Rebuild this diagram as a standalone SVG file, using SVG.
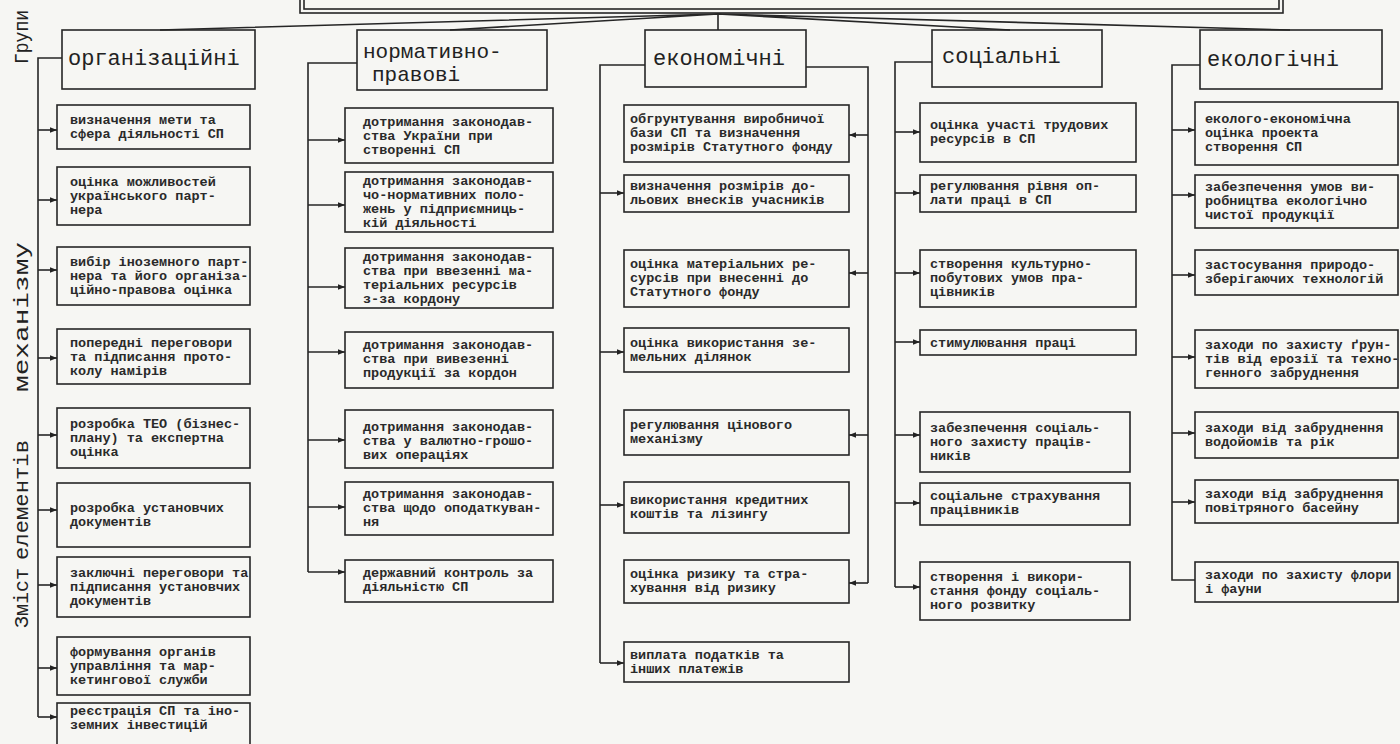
<svg xmlns="http://www.w3.org/2000/svg" width="1400" height="744" viewBox="0 0 1400 744">
<style>
.bg{fill:#f6f6f3}
.box{fill:none;stroke:#262626;stroke-width:1.6}
.c{fill:none;stroke:#262626;stroke-width:1.6}
.t{font-family:"Liberation Mono","DejaVu Sans Mono",monospace;font-size:13.5px;font-weight:bold;fill:#2a2a2a}
.h{font-family:"Liberation Mono","DejaVu Sans Mono",monospace;font-size:22px;fill:#222}
.v{font-family:"Liberation Mono","DejaVu Sans Mono",monospace;font-size:21px;fill:#222}
</style>
<defs>
<marker id="a" viewBox="0 0 10 10" refX="10" refY="5" markerUnits="userSpaceOnUse" markerWidth="8" markerHeight="7" orient="auto"><path d="M0,1 L10,5 L0,9 z" fill="#222"/></marker>
</defs>
<rect class="bg" x="0" y="0" width="1400" height="744"/>

<g id="top">
<rect class="box" x="300" y="-8" width="983" height="21"/>
<rect class="box" x="304" y="-8" width="975" height="17"/>
</g>

<g id="labels">
<g transform="translate(28,0) rotate(-90)">
<text class="v" x="-64" y="0" textLength="54" lengthAdjust="spacingAndGlyphs">Групи</text>
<text class="v" x="-628" y="0" textLength="60" lengthAdjust="spacingAndGlyphs">Зміст</text>
<text class="v" x="-560" y="0" textLength="120" lengthAdjust="spacingAndGlyphs">елементів</text>
<text class="v" x="-392" y="0" textLength="150" lengthAdjust="spacingAndGlyphs">механізму</text>
</g>
</g>

<g id="connectors">
<path class="c" d="M718,14 L160,30 M718,14 L450,30 M718,14 L718,30 M718,14 L1010,30 M718,14 L1290,30"/>
<!-- col1 -->
<path class="c" d="M62,58 H38 V717"/>
<path class="c" d="M38,130 H57" marker-end="url(#a)"/>
<path class="c" d="M38,200 H57" marker-end="url(#a)"/>
<path class="c" d="M38,270 H57" marker-end="url(#a)"/>
<path class="c" d="M38,358 H57" marker-end="url(#a)"/>
<path class="c" d="M38,435 H57" marker-end="url(#a)"/>
<path class="c" d="M38,510 H57" marker-end="url(#a)"/>
<path class="c" d="M38,585 H57" marker-end="url(#a)"/>
<path class="c" d="M38,668 H57" marker-end="url(#a)"/>
<path class="c" d="M38,717 H57" marker-end="url(#a)"/>
<!-- col2 -->
<path class="c" d="M357,63 H308 V572"/>
<path class="c" d="M308,140 H345" marker-end="url(#a)"/>
<path class="c" d="M308,205 H345" marker-end="url(#a)"/>
<path class="c" d="M308,287 H345" marker-end="url(#a)"/>
<path class="c" d="M308,352 H345" marker-end="url(#a)"/>
<path class="c" d="M308,440 H345" marker-end="url(#a)"/>
<path class="c" d="M308,507 H345" marker-end="url(#a)"/>
<path class="c" d="M308,572 H345" marker-end="url(#a)"/>
<!-- col3 -->
<path class="c" d="M645,65 H600 V663"/>
<path class="c" d="M806,67 H868 V583"/>
<path class="c" d="M868,135 H849" marker-end="url(#a)"/>
<path class="c" d="M600,193 H624" marker-end="url(#a)"/>
<path class="c" d="M868,273 H849" marker-end="url(#a)"/>
<path class="c" d="M600,352 H624" marker-end="url(#a)"/>
<path class="c" d="M868,435 H849" marker-end="url(#a)"/>
<path class="c" d="M600,505 H624" marker-end="url(#a)"/>
<path class="c" d="M868,583 H849" marker-end="url(#a)"/>
<path class="c" d="M600,663 H624" marker-end="url(#a)"/>
<!-- col4 -->
<path class="c" d="M932,62 H895 V587"/>
<path class="c" d="M895,132 H920" marker-end="url(#a)"/>
<path class="c" d="M895,193 H920" marker-end="url(#a)"/>
<path class="c" d="M895,273 H920" marker-end="url(#a)"/>
<path class="c" d="M895,342 H920" marker-end="url(#a)"/>
<path class="c" d="M895,435 H920" marker-end="url(#a)"/>
<path class="c" d="M895,503 H920" marker-end="url(#a)"/>
<path class="c" d="M895,587 H920" marker-end="url(#a)"/>
<!-- col5 -->
<path class="c" d="M1200,65 H1172 V580 H1195"/>
<path class="c" d="M1172,130 H1195" marker-end="url(#a)"/>
<path class="c" d="M1172,195 H1195" marker-end="url(#a)"/>
<path class="c" d="M1172,275 H1195" marker-end="url(#a)"/>
<path class="c" d="M1172,357 H1195" marker-end="url(#a)"/>
<path class="c" d="M1172,433 H1195" marker-end="url(#a)"/>
<path class="c" d="M1172,502 H1195" marker-end="url(#a)"/>
</g>

<!-- headers -->
<g id="h-org"><rect class="box" x="62" y="30" width="193" height="59"/><text class="h" x="68" y="65">організаційні</text></g>
<g id="h-norm"><rect class="box" x="357" y="30" width="190" height="60"/><text class="h" x="363" y="58" style="font-size:21px">нормативно-</text><text class="h" x="372" y="81" style="font-size:21px">правові</text></g>
<g id="h-econ"><rect class="box" x="645" y="30" width="161" height="57"/><text class="h" x="653" y="65">економічні</text></g>
<g id="h-soc"><rect class="box" x="932" y="30" width="170" height="57"/><text class="h" x="942" y="63">соціальні</text></g>
<g id="h-eco"><rect class="box" x="1200" y="30" width="182" height="59"/><text class="h" x="1207" y="66">екологічні</text></g>

<!-- column 1 -->
<g id="o1"><rect class="box" x="57" y="105" width="193" height="44"/><text class="t" x="70" y="124">визначення  мети та</text><text class="t" x="70" y="138">сфера діяльності СП</text></g>
<g id="o2"><rect class="box" x="57" y="167" width="193" height="58"/><text class="t" x="70" y="186">оцінка можливостей</text><text class="t" x="70" y="200">українського парт-</text><text class="t" x="70" y="214">нера</text></g>
<g id="o3"><rect class="box" x="57" y="247" width="193" height="58"/><text class="t" x="70" y="266">вибір іноземного парт-</text><text class="t" x="70" y="280">нера та його організа-</text><text class="t" x="70" y="294">ційно-правова оцінка</text></g>
<g id="o4"><rect class="box" x="57" y="329" width="193" height="55"/><text class="t" x="70" y="347">попередні переговори</text><text class="t" x="70" y="361">та підписання прото-</text><text class="t" x="70" y="375">колу намірів</text></g>
<g id="o5"><rect class="box" x="57" y="408" width="193" height="60"/><text class="t" x="70" y="428">розробка ТЕО (бізнес-</text><text class="t" x="70" y="442">плану)  та експертна</text><text class="t" x="70" y="456">оцінка</text></g>
<g id="o6"><rect class="box" x="57" y="483" width="193" height="64"/><text class="t" x="70" y="512">розробка установчих</text><text class="t" x="70" y="526">документів</text></g>
<g id="o7"><rect class="box" x="57" y="557" width="193" height="60"/><text class="t" x="70" y="577">заключні переговори та</text><text class="t" x="70" y="591">підписання установчих</text><text class="t" x="70" y="605">документів</text></g>
<g id="o8"><rect class="box" x="57" y="637" width="193" height="58"/><text class="t" x="70" y="656">формування органів</text><text class="t" x="70" y="670">управління та мар-</text><text class="t" x="70" y="684">кетингової служби</text></g>
<g id="o9"><rect class="box" x="57" y="703" width="193" height="46"/><text class="t" x="70" y="715">реєстрація СП та іно-</text><text class="t" x="70" y="729">земних інвестицій</text></g>

<!-- column 2 -->
<g id="n1"><rect class="box" x="345" y="108" width="208" height="55"/><text class="t" x="363" y="126">дотримання законодав-</text><text class="t" x="363" y="140">ства України при</text><text class="t" x="363" y="154">створенні СП</text></g>
<g id="n2"><rect class="box" x="345" y="172" width="208" height="60"/><text class="t" x="363" y="185">дотримання законодав-</text><text class="t" x="363" y="199">чо-нормативних поло-</text><text class="t" x="363" y="213">жень у підприємниць-</text><text class="t" x="363" y="227">кій діяльності</text></g>
<g id="n3"><rect class="box" x="345" y="248" width="208" height="60"/><text class="t" x="363" y="261">дотримання законодав-</text><text class="t" x="363" y="275">ства при ввезенні ма-</text><text class="t" x="363" y="289">теріальних ресурсів</text><text class="t" x="363" y="303">з-за кордону</text></g>
<g id="n4"><rect class="box" x="345" y="332" width="208" height="56"/><text class="t" x="363" y="349">дотримання законодав-</text><text class="t" x="363" y="363">ства  при вивезенні</text><text class="t" x="363" y="377">продукції за кордон</text></g>
<g id="n5"><rect class="box" x="345" y="410" width="208" height="58"/><text class="t" x="363" y="431">дотримання законодав-</text><text class="t" x="363" y="445">ства у валютно-грошо-</text><text class="t" x="363" y="459">вих операціях</text></g>
<g id="n6"><rect class="box" x="345" y="482" width="208" height="53"/><text class="t" x="363" y="498">дотримання законодав-</text><text class="t" x="363" y="512">ства щодо оподаткуван-</text><text class="t" x="363" y="526">ня</text></g>
<g id="n7"><rect class="box" x="345" y="560" width="208" height="42"/><text class="t" x="363" y="577">державний контроль за</text><text class="t" x="363" y="591">діяльністю СП</text></g>

<!-- column 3 -->
<g id="e1"><rect class="box" x="624" y="105" width="225" height="57"/><text class="t" x="630" y="123">обгрунтування виробничої</text><text class="t" x="630" y="137">бази СП  та визначення</text><text class="t" x="630" y="151">розмірів Статутного фонду</text></g>
<g id="e2"><rect class="box" x="624" y="175" width="225" height="37"/><text class="t" x="630" y="190">визначення розмірів до-</text><text class="t" x="630" y="204">льових внесків учасників</text></g>
<g id="e3"><rect class="box" x="624" y="250" width="225" height="57"/><text class="t" x="630" y="268">оцінка матеріальних ре-</text><text class="t" x="630" y="282">сурсів при внесенні до</text><text class="t" x="630" y="296">Статутного фонду</text></g>
<g id="e4"><rect class="box" x="624" y="328" width="225" height="44"/><text class="t" x="630" y="347">оцінка використання зе-</text><text class="t" x="630" y="361">мельних ділянок</text></g>
<g id="e5"><rect class="box" x="624" y="410" width="225" height="45"/><text class="t" x="630" y="429">регулювання цінового</text><text class="t" x="630" y="443">механізму</text></g>
<g id="e6"><rect class="box" x="624" y="482" width="225" height="51"/><text class="t" x="630" y="504">використання кредитних</text><text class="t" x="630" y="518">коштів та лізингу</text></g>
<g id="e7"><rect class="box" x="624" y="560" width="225" height="43"/><text class="t" x="630" y="578">оцінка ризику та стра-</text><text class="t" x="630" y="592">хування від ризику</text></g>
<g id="e8"><rect class="box" x="624" y="642" width="225" height="40"/><text class="t" x="630" y="659">виплата податків та</text><text class="t" x="630" y="673">інших платежів</text></g>

<!-- column 4 -->
<g id="s1"><rect class="box" x="920" y="103" width="216" height="59"/><text class="t" x="930" y="129">оцінка участі трудових</text><text class="t" x="930" y="143">ресурсів в СП</text></g>
<g id="s2"><rect class="box" x="920" y="175" width="216" height="37"/><text class="t" x="930" y="190">регулювання рівня оп-</text><text class="t" x="930" y="204">лати праці в СП</text></g>
<g id="s3"><rect class="box" x="920" y="250" width="216" height="57"/><text class="t" x="930" y="268">створення культурно-</text><text class="t" x="930" y="282">побутових умов пра-</text><text class="t" x="930" y="296">цівників</text></g>
<g id="s4"><rect class="box" x="920" y="330" width="216" height="25"/><text class="t" x="930" y="347">стимулювання праці</text></g>
<g id="s5"><rect class="box" x="920" y="412" width="210" height="60"/><text class="t" x="930" y="432">забезпечення соціаль-</text><text class="t" x="930" y="446">ного захисту праців-</text><text class="t" x="930" y="460">ників</text></g>
<g id="s6"><rect class="box" x="920" y="483" width="210" height="42"/><text class="t" x="930" y="500">соціальне страхування</text><text class="t" x="930" y="514">працівників</text></g>
<g id="s7"><rect class="box" x="920" y="562" width="210" height="58"/><text class="t" x="930" y="581">створення і викори-</text><text class="t" x="930" y="595">стання фонду соціаль-</text><text class="t" x="930" y="609">ного розвитку</text></g>

<!-- column 5 -->
<g id="k1"><rect class="box" x="1195" y="102" width="203" height="63"/><text class="t" x="1205" y="123">еколого-економічна</text><text class="t" x="1205" y="137">оцінка проекта</text><text class="t" x="1205" y="151">створення СП</text></g>
<g id="k2"><rect class="box" x="1195" y="175" width="203" height="53"/><text class="t" x="1205" y="191">забезпечення умов ви-</text><text class="t" x="1205" y="205">робництва екологічно</text><text class="t" x="1205" y="219">чистої продукції</text></g>
<g id="k3"><rect class="box" x="1195" y="250" width="203" height="45"/><text class="t" x="1205" y="269">застосування природо-</text><text class="t" x="1205" y="283">зберігаючих технологій</text></g>
<g id="k4"><rect class="box" x="1195" y="330" width="203" height="58"/><text class="t" x="1205" y="349">заходи по захисту ґрун-</text><text class="t" x="1205" y="363">тів від ерозії та техно-</text><text class="t" x="1205" y="377">генного забруднення</text></g>
<g id="k5"><rect class="box" x="1195" y="412" width="203" height="46"/><text class="t" x="1205" y="432">заходи від забруднення</text><text class="t" x="1205" y="446">водойомів та рік</text></g>
<g id="k6"><rect class="box" x="1195" y="480" width="203" height="43"/><text class="t" x="1205" y="498">заходи від забруднення</text><text class="t" x="1205" y="512">повітряного басейну</text></g>
<g id="k7"><rect class="box" x="1195" y="562" width="203" height="40"/><text class="t" x="1205" y="579">заходи по захисту флори</text><text class="t" x="1205" y="593">і фауни</text></g>
</svg>
